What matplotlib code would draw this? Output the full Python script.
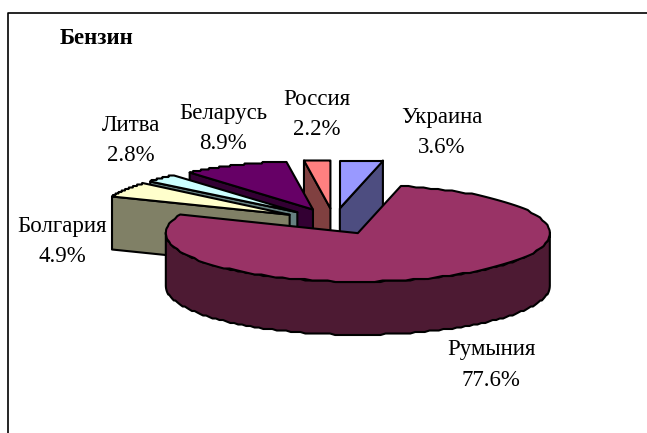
import numpy as np
import matplotlib
matplotlib.use("Agg")
import matplotlib.pyplot as plt
from matplotlib.patches import Polygon

plt.rcParams['font.family'] = ['Liberation Serif', 'DejaVu Serif']

# clockwise from 12 o'clock
paises = ["Украина", "Румыния", "Болгария", "Литва", "Беларусь", "Россия"]
valores = [3.6, 77.6, 4.9, 2.8, 8.9, 2.2]
colores_top = ["#9999FF", "#993366", "#FFFFCC", "#CCFFFF", "#660066", "#FF8080"]
colores_lado = ["#4D4D80", "#4D1A33", "#808066", "#668080", "#330033", "#804040"]
# order to paint the slices, back to front
orden = [0, 5, 4, 3, 2, 1]
# where each label goes (pixels)
pos_labels = [(441.5, 132.5), (491, 365), (62, 241.5), (131, 140.5), (223, 128.5), (317, 114.5)]

# pie geometry, pixels
CX, CY = 334, 221.5
RX, RY = 192, 48.5
PROF = 53
EXPLOTA = 0.27
LW = 1.5


def arco(x0, y0, t1, t2):
    t = np.radians(np.linspace(t1, t2, 120))
    x = x0 + RX * np.cos(t)
    y = y0 - RY * np.sin(t)
    # the original outline is stepped, not smooth
    return np.column_stack([x, np.round(y / 1.5) * 1.5])


def poligono(ax, pts, color, z):
    ax.add_patch(Polygon(pts, closed=True, facecolor=color, edgecolor="black",
                         linewidth=LW, joinstyle="round", zorder=z))


def dibuja_slice(ax, t_ini, t_fin, top, lado, z):
    # t_ini > t_fin, going clockwise
    medio = np.radians((t_ini + t_fin) / 2)
    x0 = CX + EXPLOTA * RX * np.cos(medio)
    y0 = CY - EXPLOTA * RY * np.sin(medio)
    apice = np.array([x0, y0])
    baja = np.array([0, PROF])

    # cut faces, only the ones looking at us
    for t, visible in [(t_ini, np.cos(np.radians(t_ini)) < -1e-6),
                       (t_fin, np.cos(np.radians(t_fin)) > 1e-6)]:
        if visible:
            borde = arco(x0, y0, t, t)[0]
            poligono(ax, [apice, borde, borde + baja, apice + baja], lado, z)

    # outer wall, lower half of the ellipse only
    a = max(t_fin, -180)
    b = min(t_ini, 0)
    if a < b:
        curva = arco(x0, y0, a, b)
        poligono(ax, np.vstack([curva, curva[::-1] + baja]), lado, z + 0.1)

    poligono(ax, np.vstack([apice, arco(x0, y0, t_ini, t_fin)]), top, z + 0.2)


fig = plt.figure(figsize=(6.47, 4.33), dpi=100)
ax = fig.add_axes([0, 0, 1, 1])
ax.set_xlim(0, 647)
ax.set_ylim(433, 0)
ax.axis("off")

# frame: only left and top show up
ax.plot([7.5, 7.5, 647], [433, 12.5, 12.5], color="black", lw=1.2, zorder=1)

angulos = 90 - np.cumsum([0] + [v * 3.6 for v in valores])
for z, i in enumerate(orden):
    dibuja_slice(ax, angulos[i], angulos[i + 1], colores_top[i], colores_lado[i], 2 + z)

for nombre, v, (x, y) in zip(paises, valores, pos_labels):
    ax.text(x, y, f"{nombre}\n{v}%", ha="center", va="center", fontsize=16.5,
            linespacing=1.6, color="black", zorder=20)

ax.text(60, 38, "Бензин", ha="left", va="center", fontsize=16.5, fontweight="bold", zorder=20)

fig.savefig("out.png", dpi=100)
